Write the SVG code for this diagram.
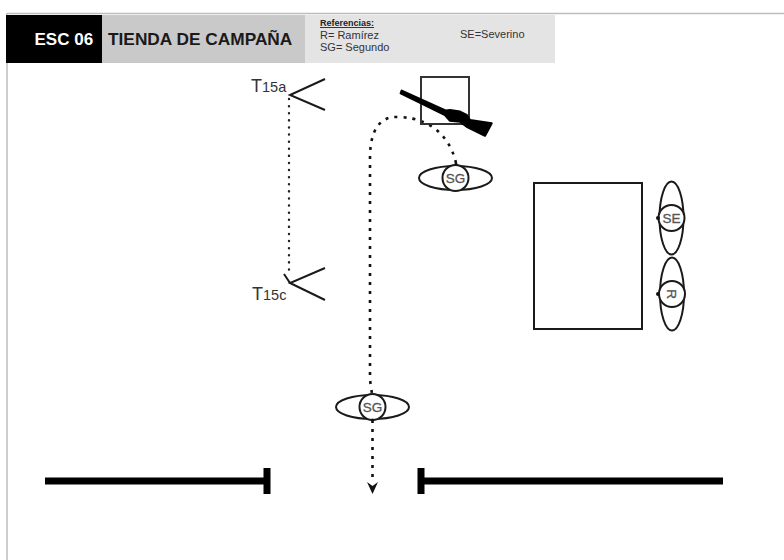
<svg xmlns="http://www.w3.org/2000/svg" width="784" height="560" viewBox="0 0 784 560">
<style>
text{font-family:"Liberation Sans",Arial,sans-serif}
.o{fill:none;stroke:#1a1a1a;stroke-width:2}
.c{fill:#fff;stroke:#1a1a1a;stroke-width:2}
.d{fill:none;stroke:#222;stroke-width:2.400;stroke-dasharray:0.1 7;stroke-linecap:round}
.e{fill:none;stroke:#111;stroke-width:2.600;stroke-dasharray:3 6}
.l{fill:#555;font-size:13.500px;text-anchor:middle;stroke:#555;stroke-width:0.300}
.r{fill:#333;font-size:11px}
.w{fill:none;stroke:#000;stroke-width:7}
.tm{fill:#333;font-size:18px}
.ts{fill:#333;font-size:14.500px}
</style>
<defs>
<g id="man"><ellipse class="o" rx="36.500" ry="12"/><circle class="c" r="13"/></g>
</defs>
<rect width="784" height="560" fill="#fff"/>
<g id="frame"><path d="M7 560V13.500H784" fill="none" stroke="#bdbdbd" stroke-width="1.500"/></g>
<g id="header">
<rect x="6" y="15" width="96" height="48" fill="#000"/>
<rect x="102" y="15" width="203" height="48" fill="#c9c9c9"/>
<rect x="305" y="15" width="250" height="48" fill="#e4e4e4"/>
<text x="34.500" y="45" fill="#fff" font-size="17" font-weight="bold">ESC 06</text>
<text x="108" y="45" fill="#1a1a1a" font-size="17.300" font-weight="bold">TIENDA DE CAMPAÑA</text>
<text x="320" y="26" fill="#222" font-size="9" font-weight="bold" text-decoration="underline">Referencias:</text>
<text x="320" y="39" class="r">R= Ramírez</text>
<text x="320" y="51" class="r">SG= Segundo</text>
<text x="460" y="38" class="r">SE=Severino</text>
</g>
<g id="connectors">
<path class="d" d="M289 99V276"/>
<path class="e" d="M456 163C452 145 438 118 398 117C380 116 370 130 370 158V380L372 394"/>
<path class="e" d="M372.500 420V482"/>
<path d="M367 482L372.500 486L378 482L372.500 494Z" fill="#111"/>
</g>
<g id="tree-t15a">
<path d="M325 79L290 95L325 110" fill="none" stroke="#1a1a1a" stroke-width="2"/>
<text x="251" y="92" class="tm">T</text><text x="262" y="92" class="ts">15a</text>
</g>
<g id="tree-t15c">
<path d="M325 268L290 283L325 300M284 274L290 283" fill="none" stroke="#1a1a1a" stroke-width="2"/>
<text x="252" y="300" class="tm">T</text><text x="263" y="300" class="ts">15c</text>
</g>
<g id="box"><rect x="421" y="77" width="48" height="47" fill="none" stroke="#333" stroke-width="2"/></g>
<g id="rifle">
<path d="M401.700 90.700L446 110.700L450 110L460 111.700L466.700 115L470 120L491.700 123.300L485 135.700L466.700 126.700L460 121.700L450 120.700L445 115L400.700 93.300Z" fill="#000" stroke="#000" stroke-width="2.200" stroke-linejoin="round"/>
</g>
<g id="table"><rect x="534" y="183" width="108" height="146" fill="none" stroke="#1a1a1a" stroke-width="2"/></g>
<g id="sg-top"><use href="#man" x="455.500" y="178"/><text class="l" x="455.500" y="183">SG</text><circle cx="456" cy="164" r="1.500" fill="#111"/></g>
<g id="sg-bottom"><use href="#man" x="372.500" y="407"/><text class="l" x="372.500" y="412">SG</text><circle cx="372.500" cy="420" r="1.500" fill="#111"/></g>
<g id="se"><use href="#man" transform="translate(671.500 218) rotate(90)"/><text class="l" x="671.500" y="223">SE</text><circle cx="658" cy="218" r="2" fill="#111"/></g>
<g id="r"><use href="#man" transform="translate(672 294) rotate(90)"/><text class="l" transform="translate(672 294) rotate(90)" y="5">R</text><circle cx="658" cy="294" r="2" fill="#111"/></g>
<g id="walls">
<path d="M45 481H267M267 468V494" class="w"/>
<path d="M723 481H421M421 468V494" class="w"/>
</g>
</svg>
